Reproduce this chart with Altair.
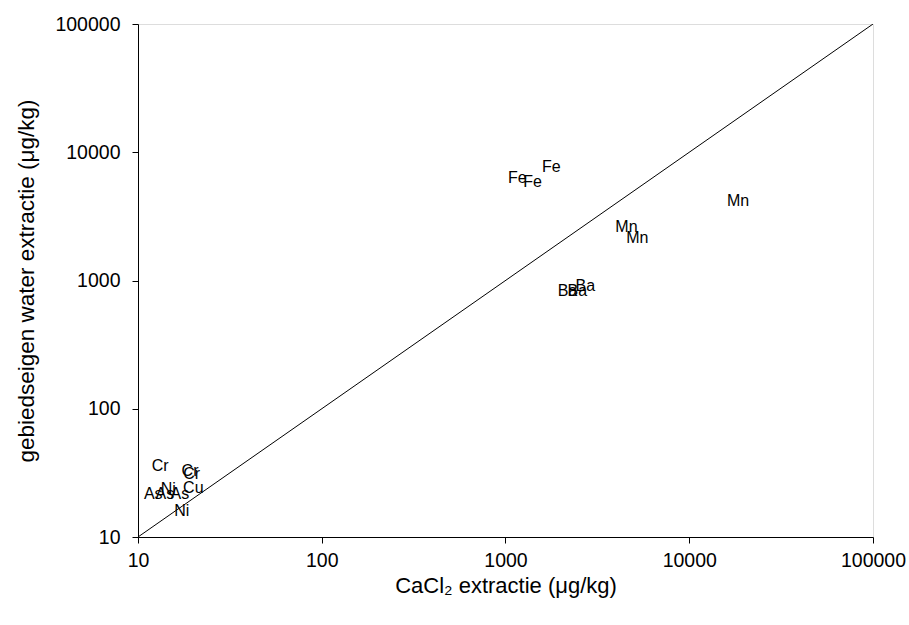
import altair as alt
import pandas as pd

labels = ["Cr", "Cr", "Cr", "Cu", "As", "As", "Ni", "As", "Ni",
          "Fe", "Fe", "Fe",
          "Ba", "Ba", "Ba",
          "Mn", "Mn", "Mn"]
cacl2 = [13.2, 19.2, 19.6, 20.0, 12.1, 14.0, 14.6, 16.9, 17.3,
         1161, 1403, 1778,
         2173, 2721, 2460,
         4550, 5215, 18450]
water = [35.9, 32.8, 31.0, 24.2, 21.7, 21.7, 23.7, 21.7, 16.0,
         6270, 5830, 7640,
         835, 898, 835,
         2595, 2128, 4140]

line_x = [10, 100000]
line_y = [10, 100000]
ticks = [10, 100, 1000, 10000, 100000]

df = pd.DataFrame({"label": labels, "x": cacl2, "y": water})
dl = pd.DataFrame({"x": line_x, "y": line_y})

FONT = "Liberation Sans"

xscale = alt.Scale(type="log", domain=[10, 100000], nice=False)
yscale = alt.Scale(type="log", domain=[10, 100000], nice=False)

xaxis = alt.Axis(values=ticks, format="d", grid=False, title="CaCl₂ extractie (μg/kg)",
                 labelFont=FONT, labelFontSize=19.5, labelColor="#000",
                 titleFont=FONT, titleFontSize=22, titleFontWeight="normal", titleColor="#000",
                 titlePadding=6, labelPadding=8, tickSize=6, tickColor="#000",
                 domainColor="#000", labelFlush=False, labelOverlap=False)
yaxis = alt.Axis(values=ticks, format="d", grid=False, title="gebiedseigen water extractie (μg/kg)",
                 labelFont=FONT, labelFontSize=19.5, labelColor="#000",
                 titleFont=FONT, titleFontSize=22.5, titleFontWeight="normal", titleColor="#000",
                 titlePadding=16, labelPadding=12, tickSize=6, tickColor="#000",
                 domainColor="#000", labelFlush=False, labelOverlap=False)

line = alt.Chart(dl).mark_line(color="#000", strokeWidth=1, clip=True).encode(
    x=alt.X("x:Q", scale=xscale, axis=xaxis),
    y=alt.Y("y:Q", scale=yscale, axis=yaxis),
)

text = alt.Chart(df).mark_text(font=FONT, fontSize=16, color="#000",
                               align="center", baseline="middle").encode(
    x=alt.X("x:Q", scale=xscale),
    y=alt.Y("y:Q", scale=yscale),
    text="label:N",
)

chart = (line + text).properties(
    width=735, height=513,
    autosize=alt.AutoSizeParams(type="none"),
    padding={"left": 138, "top": 24, "right": 36, "bottom": 88},
).configure_view(stroke="#000", strokeWidth=1).configure(background="white")

chart.save("out.html", embed_options={"renderer": "svg", "actions": False})
